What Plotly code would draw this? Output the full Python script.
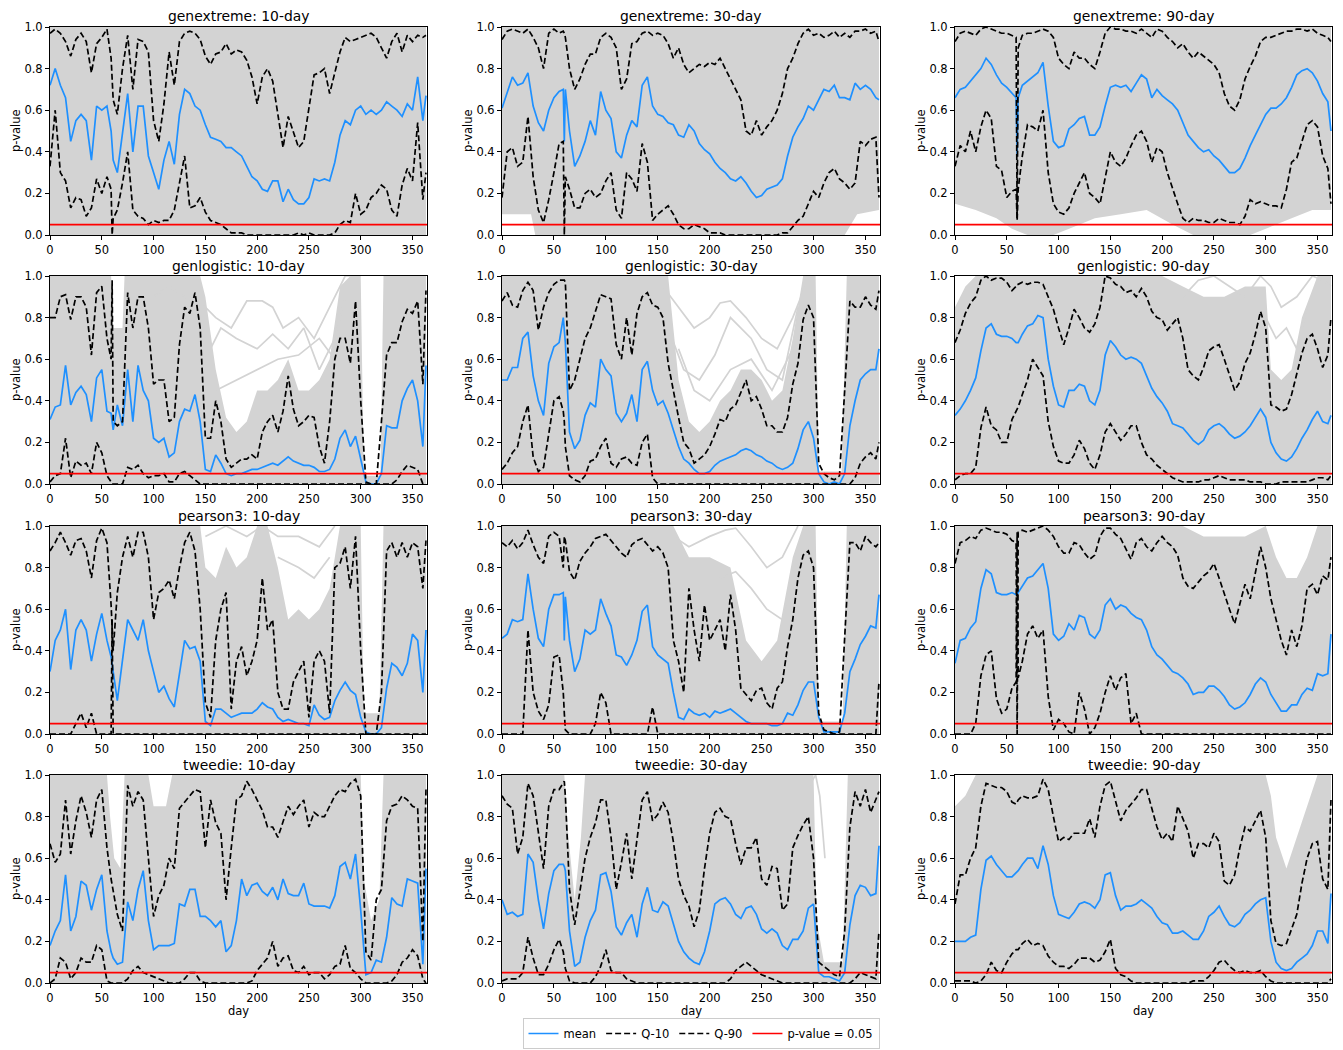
import plotly.graph_objects as go

# ---------------- data ----------------
DAYS = [0, 5, 10, 15, 20, 25, 30, 35, 40, 45, 50, 55,
        59, 60, 61,
        65, 70, 75, 80, 85, 90, 95, 100, 105, 110, 115, 120,
        125, 130, 135, 140, 145, 150, 155, 160, 165, 170, 175, 180,
        185, 190, 195, 200, 205, 210, 215, 220, 225, 230, 235, 240,
        245, 250, 255, 260, 265, 270, 275, 280, 285, 290, 295, 300,
        305, 310, 315, 320, 325, 330, 335, 340, 345, 350, 355, 360,
        363]
THRESHOLD = 0.05
X_TICKS = [0, 50, 100, 150, 200, 250, 300, 350]
Y_TICKS = [0.0, 0.2, 0.4, 0.6, 0.8, 1.0]
X_MAX = 364
DISTRIBUTIONS = ["genextreme", "genlogistic", "pearson3", "tweedie"]
WINDOWS = ["10-day", "30-day", "90-day"]

# rows of values: days 0-55 | 59,60,61 | 65-120 | 125-180 | 185-240 | 245-300 | 305-360 | 363

# genextreme 10-day
mean_genextreme_10 = [0.72, 0.80, 0.72, 0.66, 0.45, 0.55, 0.58, 0.55, 0.36, 0.62, 0.60, 0.62,
                      0.50, 0.42, 0.36,
                      0.30, 0.50, 0.68, 0.40, 0.62, 0.62, 0.38, 0.30, 0.22, 0.36, 0.45, 0.34,
                      0.58, 0.70, 0.68, 0.62, 0.60, 0.53, 0.47, 0.46, 0.45, 0.42, 0.42, 0.40,
                      0.38, 0.33, 0.28, 0.26, 0.22, 0.21, 0.26, 0.26, 0.16, 0.22, 0.17, 0.15,
                      0.15, 0.18, 0.27, 0.26, 0.27, 0.26, 0.35, 0.48, 0.55, 0.53, 0.60, 0.62,
                      0.58, 0.60, 0.58, 0.60, 0.64, 0.62, 0.60, 0.57, 0.63, 0.60, 0.76, 0.55,
                      0.67]
q90_genextreme_10 = [0.97, 0.99, 0.97, 0.93, 0.86, 0.94, 0.97, 0.93, 0.78, 0.92, 0.95, 0.99,
                     0.85, 0.75, 0.65,
                     0.58, 0.80, 0.96, 0.70, 0.94, 0.93, 0.88, 0.55, 0.45, 0.63, 0.88, 0.72,
                     0.93, 0.97, 0.98, 0.97, 0.94, 0.86, 0.82, 0.87, 0.88, 0.92, 0.87, 0.89,
                     0.88, 0.84, 0.76, 0.63, 0.76, 0.80, 0.74, 0.58, 0.42, 0.57, 0.50, 0.42,
                     0.45, 0.62, 0.77, 0.78, 0.80, 0.68, 0.78, 0.88, 0.95, 0.93, 0.94, 0.95,
                     0.96, 0.97, 0.95, 0.90, 0.85, 0.93, 0.97, 0.88, 0.96, 0.93, 0.96, 0.95,
                     0.96]
q10_genextreme_10 = [0.33, 0.60, 0.30, 0.26, 0.13, 0.18, 0.17, 0.09, 0.13, 0.27, 0.20, 0.28,
                     0.22, 0.00, 0.08,
                     0.12, 0.25, 0.40, 0.12, 0.09, 0.08, 0.05, 0.07, 0.06, 0.07, 0.07, 0.12,
                     0.25, 0.38, 0.13, 0.14, 0.18, 0.11, 0.07, 0.06, 0.05, 0.03, 0.01, 0.01,
                     0.01, 0.00, 0.00, 0.00, 0.00, 0.00, 0.00, 0.00, 0.00, 0.00, 0.00, 0.01,
                     0.00, 0.01, 0.00, 0.00, 0.00, 0.00, 0.01, 0.05, 0.07, 0.06, 0.20, 0.10,
                     0.12, 0.18, 0.20, 0.24, 0.22, 0.12, 0.09, 0.24, 0.32, 0.26, 0.54, 0.17,
                     0.30]
gray_x_genextreme_10 = [0, 363]
gray_hi_genextreme_10 = [1.0, 1.0]
gray_lo_genextreme_10 = [0.0, 0.0]

# genextreme 30-day
mean_genextreme_30 = [0.61, 0.68, 0.76, 0.72, 0.73, 0.78, 0.62, 0.54, 0.50, 0.60, 0.66, 0.69,
                      0.70, 0.45, 0.70,
                      0.50, 0.33, 0.38, 0.45, 0.55, 0.48, 0.69, 0.60, 0.56, 0.40, 0.37, 0.48,
                      0.55, 0.52, 0.72, 0.76, 0.62, 0.58, 0.57, 0.54, 0.53, 0.48, 0.47, 0.53,
                      0.50, 0.44, 0.41, 0.39, 0.35, 0.32, 0.30, 0.27, 0.26, 0.28, 0.25, 0.21,
                      0.18, 0.19, 0.22, 0.23, 0.24, 0.27, 0.38, 0.47, 0.52, 0.56, 0.62, 0.60,
                      0.65, 0.70, 0.69, 0.72, 0.66, 0.66, 0.65, 0.73, 0.70, 0.72, 0.70, 0.66,
                      0.65]
q90_genextreme_30 = [0.94, 0.98, 0.99, 0.98, 0.97, 0.99, 0.95, 0.90, 0.80, 0.97, 0.99, 0.97,
                     0.98, 0.97, 0.95,
                     0.80, 0.70, 0.75, 0.82, 0.87, 0.87, 0.95, 0.97, 0.95, 0.90, 0.70, 0.75,
                     0.92, 0.93, 0.97, 0.98, 0.96, 0.97, 0.96, 0.92, 0.85, 0.90, 0.82, 0.78,
                     0.80, 0.82, 0.81, 0.83, 0.82, 0.85, 0.80, 0.75, 0.70, 0.65, 0.50, 0.48,
                     0.55, 0.48, 0.52, 0.55, 0.60, 0.68, 0.80, 0.85, 0.92, 0.97, 0.99, 0.96,
                     0.97, 0.95, 0.96, 0.98, 0.95, 0.97, 0.95, 0.98, 0.98, 0.99, 0.97, 0.98,
                     0.93]
q10_genextreme_30 = [0.18, 0.40, 0.42, 0.33, 0.35, 0.57, 0.28, 0.12, 0.06, 0.17, 0.30, 0.44,
                     0.45, 0.00, 0.28,
                     0.22, 0.13, 0.13, 0.20, 0.22, 0.18, 0.20, 0.26, 0.30, 0.12, 0.08, 0.30,
                     0.27, 0.21, 0.44, 0.35, 0.07, 0.10, 0.12, 0.14, 0.10, 0.05, 0.03, 0.03,
                     0.05, 0.04, 0.03, 0.01, 0.01, 0.01, 0.00, 0.00, 0.00, 0.00, 0.00, 0.00,
                     0.00, 0.00, 0.00, 0.00, 0.00, 0.01, 0.01, 0.04, 0.07, 0.09, 0.15, 0.21,
                     0.18, 0.25, 0.30, 0.32, 0.27, 0.25, 0.22, 0.25, 0.45, 0.43, 0.46, 0.47,
                     0.18]
gray_x_genextreme_30 = [0, 28, 32, 330, 342, 363]
gray_hi_genextreme_30 = [1.0, 1.0, 1.0, 1.0, 1.0, 1.0]
gray_lo_genextreme_30 = [0.10, 0.10, 0.0, 0.0, 0.10, 0.12]

# genextreme 90-day
mean_genextreme_90 = [0.66, 0.70, 0.71, 0.74, 0.77, 0.80, 0.85, 0.82, 0.77, 0.73, 0.71, 0.68,
                      0.66, 0.39, 0.66,
                      0.72, 0.74, 0.76, 0.78, 0.83, 0.62, 0.45, 0.42, 0.43, 0.51, 0.53, 0.56,
                      0.57, 0.48, 0.48, 0.52, 0.62, 0.71, 0.72, 0.71, 0.72, 0.69, 0.73, 0.77,
                      0.75, 0.66, 0.70, 0.67, 0.65, 0.63, 0.60, 0.54, 0.48, 0.45, 0.42, 0.40,
                      0.41, 0.38, 0.36, 0.33, 0.30, 0.30, 0.32, 0.37, 0.43, 0.48, 0.53, 0.58,
                      0.61, 0.61, 0.63, 0.66, 0.71, 0.77, 0.79, 0.80, 0.78, 0.74, 0.68, 0.64,
                      0.50]
q90_genextreme_90 = [0.93, 0.97, 0.98, 0.97, 0.96, 0.99, 1.00, 0.99, 0.98, 0.97, 0.97, 0.96,
                     0.95, 0.08, 0.90,
                     0.96, 0.97, 0.97, 0.98, 0.99, 0.98, 0.95, 0.85, 0.82, 0.80, 0.88, 0.85,
                     0.85, 0.82, 0.80, 0.88, 0.97, 1.00, 0.99, 0.99, 0.98, 0.98, 0.97, 0.99,
                     0.97, 0.95, 0.99, 0.98, 0.95, 0.93, 0.90, 0.92, 0.88, 0.85, 0.88, 0.86,
                     0.84, 0.82, 0.78, 0.68, 0.62, 0.60, 0.65, 0.75, 0.81, 0.86, 0.93, 0.95,
                     0.95, 0.96, 0.97, 0.98, 0.98, 0.99, 0.99, 0.98, 0.99, 0.97, 0.96, 0.95,
                     0.93]
q10_genextreme_90 = [0.33, 0.43, 0.40, 0.50, 0.40, 0.52, 0.60, 0.56, 0.33, 0.31, 0.18, 0.21,
                     0.22, 0.07, 0.22,
                     0.38, 0.53, 0.52, 0.50, 0.60, 0.30, 0.15, 0.11, 0.10, 0.13, 0.20, 0.25,
                     0.30, 0.20, 0.18, 0.15, 0.28, 0.40, 0.35, 0.33, 0.37, 0.43, 0.48, 0.50,
                     0.45, 0.35, 0.42, 0.40, 0.30, 0.22, 0.15, 0.08, 0.06, 0.08, 0.07, 0.07,
                     0.06, 0.06, 0.08, 0.07, 0.06, 0.06, 0.05, 0.09, 0.17, 0.15, 0.16, 0.15,
                     0.14, 0.14, 0.13, 0.22, 0.35, 0.37, 0.45, 0.53, 0.55, 0.52, 0.38, 0.32,
                     0.15]
gray_x_genextreme_90 = [0, 20, 40, 55, 70, 95, 115, 135, 160, 185, 210, 230, 260, 285, 305, 325, 345, 363]
gray_hi_genextreme_90 = [1.0, 1.0, 1.0, 1.0, 1.0, 1.0, 1.0, 1.0, 1.0, 1.0, 1.0, 1.0, 1.0, 1.0, 1.0, 1.0, 1.0, 1.0]
gray_lo_genextreme_90 = [0.15, 0.12, 0.08, 0.03, 0.0, 0.0, 0.04, 0.08, 0.10, 0.12, 0.05, 0.0, 0.0, 0.0, 0.04, 0.08, 0.12, 0.12]

# genlogistic 10-day
mean_genlogistic_10 = [0.31, 0.37, 0.38, 0.57, 0.38, 0.44, 0.47, 0.43, 0.30, 0.51, 0.55, 0.35,
                       0.34, 0.30, 0.26,
                       0.38, 0.28, 0.55, 0.30, 0.57, 0.45, 0.40, 0.22, 0.20, 0.22, 0.13, 0.15,
                       0.30, 0.36, 0.35, 0.43, 0.30, 0.07, 0.06, 0.14, 0.10, 0.05, 0.04, 0.05,
                       0.05, 0.06, 0.07, 0.07, 0.08, 0.09, 0.10, 0.09, 0.11, 0.13, 0.11, 0.10,
                       0.09, 0.09, 0.08, 0.06, 0.06, 0.07, 0.12, 0.22, 0.26, 0.18, 0.23, 0.12,
                       0.01, 0.00, 0.00, 0.05, 0.28, 0.27, 0.27, 0.40, 0.46, 0.50, 0.40, 0.18,
                       0.57]
q90_genlogistic_10 = [0.80, 0.80, 0.90, 0.91, 0.79, 0.90, 0.90, 0.85, 0.62, 0.92, 0.95, 0.70,
                      0.60, 0.98, 0.30,
                      0.28, 0.30, 0.92, 0.75, 0.90, 0.90, 0.75, 0.48, 0.50, 0.50, 0.30, 0.32,
                      0.67, 0.85, 0.82, 0.92, 0.75, 0.22, 0.22, 0.40, 0.30, 0.12, 0.08, 0.10,
                      0.12, 0.12, 0.14, 0.12, 0.25, 0.30, 0.33, 0.25, 0.35, 0.52, 0.36, 0.28,
                      0.30, 0.33, 0.32, 0.18, 0.10, 0.30, 0.60, 0.70, 0.70, 0.58, 0.88, 0.40,
                      0.01, 0.00, 0.00, 0.30, 0.62, 0.68, 0.68, 0.78, 0.84, 0.82, 0.88, 0.48,
                      0.93]
q10_genlogistic_10 = [0.01, 0.04, 0.05, 0.22, 0.03, 0.11, 0.09, 0.10, 0.05, 0.20, 0.15, 0.04,
                      0.01, 0.00, 0.00,
                      0.00, 0.00, 0.08, 0.07, 0.09, 0.05, 0.03, 0.04, 0.04, 0.05, 0.01, 0.01,
                      0.05, 0.06, 0.04, 0.02, 0.00, 0.00, 0.00, 0.00, 0.00, 0.00, 0.00, 0.00,
                      0.00, 0.00, 0.00, 0.00, 0.00, 0.00, 0.00, 0.00, 0.00, 0.00, 0.00, 0.00,
                      0.00, 0.00, 0.00, 0.00, 0.00, 0.00, 0.00, 0.00, 0.00, 0.00, 0.00, 0.00,
                      0.00, 0.00, 0.00, 0.00, 0.00, 0.00, 0.02, 0.06, 0.09, 0.08, 0.07, 0.00,
                      0.00]
gray_x_genlogistic_10 = [0, 59, 61, 70, 72, 145, 150, 160, 170, 180, 190, 200, 210, 220, 230, 240,
                         250, 260, 270, 280, 290, 300, 303, 319, 322, 363]
gray_hi_genlogistic_10 = [1.0, 1.0, 0.75, 0.75, 1.0, 1.0, 0.9, 0.55, 0.32, 0.25, 0.3, 0.45, 0.45, 0.5, 0.6, 0.45,
                          0.45, 0.5, 0.6, 0.95, 1.0, 1.0, 0.04, 0.04, 1.0, 1.0]
gray_lo_genlogistic_10 = [0.0, 0.0, 0.0, 0.0, 0.0, 0.0, 0.0, 0.0, 0.0, 0.0, 0.0, 0.0, 0.0, 0.0, 0.0, 0.0,
                          0.0, 0.0, 0.0, 0.0, 0.0, 0.0, 0.0, 0.0, 0.0, 0.0]
sparse_genlogistic_10 = [
    ([100, 115, 130, 150, 160, 175, 190, 205, 215, 225, 240, 255, 270, 285, 295],
     [0.90, 0.95, 0.90, 0.85, 0.80, 0.75, 0.88, 0.88, 0.85, 0.75, 0.80, 0.70, 0.85, 1.00, 1.00]),
    ([150, 165, 180, 200, 215, 230, 245, 260, 275, 285],
     [0.60, 0.75, 0.70, 0.65, 0.72, 0.65, 0.75, 0.55, 0.70, 0.90]),
    ([160, 180, 200, 220, 240, 260, 275],
     [0.45, 0.50, 0.55, 0.60, 0.62, 0.70, 0.60]),
]

# genlogistic 30-day
mean_genlogistic_30 = [0.50, 0.50, 0.56, 0.56, 0.70, 0.73, 0.52, 0.40, 0.33, 0.58, 0.66, 0.68,
                       0.80, 0.72, 0.68,
                       0.25, 0.17, 0.21, 0.33, 0.39, 0.37, 0.60, 0.55, 0.52, 0.34, 0.30, 0.34,
                       0.43, 0.30, 0.55, 0.59, 0.45, 0.38, 0.40, 0.34, 0.26, 0.18, 0.12, 0.10,
                       0.07, 0.05, 0.05, 0.06, 0.09, 0.11, 0.12, 0.13, 0.14, 0.16, 0.17, 0.16,
                       0.14, 0.13, 0.11, 0.10, 0.08, 0.07, 0.08, 0.10, 0.17, 0.26, 0.30, 0.22,
                       0.05, 0.01, 0.00, 0.01, 0.00, 0.05, 0.28, 0.40, 0.50, 0.53, 0.55, 0.55,
                       0.65]
q90_genlogistic_30 = [0.88, 0.92, 0.86, 0.85, 0.93, 0.97, 0.93, 0.74, 0.85, 0.92, 0.96, 0.98,
                      0.98, 0.98, 0.97,
                      0.45, 0.50, 0.60, 0.70, 0.75, 0.83, 0.91, 0.90, 0.89, 0.67, 0.60, 0.80,
                      0.62, 0.82, 0.90, 0.92, 0.86, 0.85, 0.80, 0.58, 0.44, 0.32, 0.20, 0.17,
                      0.10, 0.12, 0.14, 0.18, 0.24, 0.31, 0.30, 0.36, 0.38, 0.44, 0.50, 0.40,
                      0.42, 0.36, 0.28, 0.28, 0.25, 0.25, 0.32, 0.48, 0.58, 0.79, 0.86, 0.80,
                      0.10, 0.05, 0.03, 0.02, 0.04, 0.45, 0.88, 0.85, 0.85, 0.90, 0.86, 0.84,
                      0.93]
q10_genlogistic_30 = [0.07, 0.10, 0.15, 0.18, 0.30, 0.38, 0.13, 0.06, 0.08, 0.25, 0.40, 0.42,
                      0.35, 0.30, 0.18,
                      0.04, 0.02, 0.01, 0.04, 0.11, 0.12, 0.18, 0.22, 0.10, 0.08, 0.12, 0.13,
                      0.10, 0.09, 0.20, 0.24, 0.03, 0.00, 0.00, 0.00, 0.00, 0.00, 0.00, 0.00,
                      0.00, 0.00, 0.00, 0.00, 0.00, 0.00, 0.00, 0.00, 0.00, 0.00, 0.00, 0.00,
                      0.00, 0.00, 0.00, 0.00, 0.00, 0.00, 0.00, 0.00, 0.00, 0.00, 0.00, 0.00,
                      0.00, 0.00, 0.00, 0.00, 0.00, 0.00, 0.00, 0.03, 0.10, 0.13, 0.15, 0.12,
                      0.20]
gray_x_genlogistic_30 = [0, 160, 170, 180, 190, 200, 210, 220, 230, 240, 250, 260, 270, 280, 290,
                         302, 305, 327, 332, 363]
gray_hi_genlogistic_30 = [1.0, 1.0, 0.5, 0.3, 0.25, 0.3, 0.4, 0.45, 0.55, 0.55, 0.5, 0.4, 0.45, 0.7, 1.0,
                          1.0, 0.06, 0.06, 1.0, 1.0]
gray_lo_genlogistic_30 = [0.0, 0.0, 0.0, 0.0, 0.0, 0.0, 0.0, 0.0, 0.0, 0.0, 0.0, 0.0, 0.0, 0.0, 0.0,
                          0.0, 0.0, 0.0, 0.0, 0.0]
sparse_genlogistic_30 = [
    ([155, 170, 185, 200, 210, 220, 235, 250, 265, 280, 292],
     [0.95, 0.85, 0.75, 0.80, 0.87, 0.88, 0.80, 0.70, 0.65, 0.80, 0.95]),
    ([160, 175, 190, 205, 220, 240, 255, 270, 285],
     [0.75, 0.55, 0.50, 0.62, 0.80, 0.70, 0.55, 0.50, 0.85]),
    ([170, 185, 200, 220, 240, 260, 280],
     [0.65, 0.45, 0.40, 0.55, 0.60, 0.45, 0.65]),
]

# genlogistic 90-day
mean_genlogistic_90 = [0.33, 0.36, 0.40, 0.45, 0.51, 0.64, 0.75, 0.77, 0.72, 0.71, 0.71, 0.70,
                       0.68, 0.68, 0.68,
                       0.72, 0.76, 0.77, 0.81, 0.80, 0.60, 0.47, 0.38, 0.37, 0.45, 0.45, 0.48,
                       0.47, 0.40, 0.38, 0.45, 0.62, 0.69, 0.66, 0.62, 0.60, 0.61, 0.60, 0.58,
                       0.52, 0.46, 0.42, 0.39, 0.35, 0.29, 0.28, 0.27, 0.24, 0.21, 0.19, 0.21,
                       0.26, 0.28, 0.29, 0.27, 0.24, 0.22, 0.23, 0.25, 0.28, 0.32, 0.36, 0.32,
                       0.20, 0.15, 0.12, 0.11, 0.13, 0.17, 0.22, 0.26, 0.31, 0.35, 0.30, 0.29,
                       0.33]
q90_genlogistic_90 = [0.68, 0.74, 0.82, 0.87, 0.90, 0.98, 1.00, 0.98, 0.99, 0.99, 0.97, 0.93,
                      0.95, 0.96, 0.96,
                      0.97, 0.96, 0.97, 0.97, 0.96, 0.90, 0.84, 0.75, 0.67, 0.75, 0.84, 0.80,
                      0.75, 0.73, 0.77, 0.85, 1.00, 0.99, 0.96, 0.95, 0.92, 0.93, 0.90, 0.94,
                      0.90, 0.83, 0.80, 0.79, 0.74, 0.77, 0.80, 0.70, 0.55, 0.52, 0.50, 0.56,
                      0.64, 0.66, 0.67, 0.60, 0.52, 0.45, 0.49, 0.58, 0.63, 0.72, 0.83, 0.75,
                      0.38, 0.37, 0.35, 0.36, 0.43, 0.53, 0.63, 0.70, 0.72, 0.65, 0.56, 0.62,
                      0.80]
q10_genlogistic_90 = [0.02, 0.04, 0.05, 0.05, 0.08, 0.27, 0.37, 0.28, 0.26, 0.20, 0.20, 0.31,
                      0.35, 0.36, 0.37,
                      0.43, 0.50, 0.60, 0.56, 0.52, 0.30, 0.18, 0.11, 0.10, 0.10, 0.14, 0.21,
                      0.17, 0.10, 0.07, 0.14, 0.25, 0.29, 0.25, 0.21, 0.24, 0.28, 0.28, 0.20,
                      0.14, 0.12, 0.09, 0.07, 0.05, 0.03, 0.02, 0.01, 0.01, 0.01, 0.01, 0.02,
                      0.02, 0.03, 0.04, 0.03, 0.02, 0.02, 0.02, 0.02, 0.01, 0.01, 0.01, 0.00,
                      0.00, 0.00, 0.01, 0.01, 0.01, 0.01, 0.01, 0.01, 0.02, 0.03, 0.03, 0.02,
                      0.04]
gray_x_genlogistic_90 = [0, 10, 20, 200, 220, 240, 260, 280, 300, 305, 315, 325, 335, 350, 363]
gray_hi_genlogistic_90 = [0.85, 0.95, 1.0, 1.0, 0.95, 0.9, 0.9, 0.95, 0.95, 0.55, 0.5, 0.55, 0.8, 1.0, 1.0]
gray_lo_genlogistic_90 = [0.0, 0.0, 0.0, 0.0, 0.0, 0.0, 0.0, 0.0, 0.0, 0.0, 0.0, 0.0, 0.0, 0.0, 0.0]
sparse_genlogistic_90 = [
    ([220, 235, 250, 265, 280, 295, 305, 315, 330, 345, 355, 363],
     [0.90, 0.98, 1.00, 0.95, 0.90, 1.00, 0.95, 0.85, 0.90, 1.00, 0.98, 0.95]),
    ([300, 310, 320, 330, 340],
     [0.80, 0.70, 0.75, 0.65, 0.85]),
]

# pearson3 10-day
mean_pearson3_10 = [0.30, 0.45, 0.50, 0.60, 0.31, 0.50, 0.55, 0.50, 0.35, 0.48, 0.58, 0.45,
                    0.37, 0.33, 0.30,
                    0.16, 0.35, 0.55, 0.50, 0.45, 0.55, 0.40, 0.30, 0.20, 0.23, 0.17, 0.13,
                    0.30, 0.45, 0.41, 0.42, 0.35, 0.06, 0.04, 0.12, 0.12, 0.10, 0.08, 0.09,
                    0.10, 0.10, 0.10, 0.12, 0.15, 0.13, 0.12, 0.08, 0.06, 0.07, 0.06, 0.05,
                    0.05, 0.04, 0.14, 0.09, 0.07, 0.08, 0.16, 0.21, 0.25, 0.21, 0.19, 0.08,
                    0.01, 0.00, 0.00, 0.03, 0.22, 0.34, 0.32, 0.28, 0.34, 0.48, 0.45, 0.20,
                    0.50]
q90_pearson3_10 = [0.88, 0.92, 0.97, 0.92, 0.86, 0.93, 0.94, 0.88, 0.75, 0.93, 0.99, 0.92,
                   0.62, 0.45, 0.40,
                   0.68, 0.85, 0.95, 0.85, 0.97, 0.97, 0.85, 0.55, 0.68, 0.70, 0.74, 0.65,
                   0.80, 0.92, 0.97, 0.88, 0.60, 0.15, 0.08, 0.45, 0.60, 0.68, 0.12, 0.35,
                   0.42, 0.28, 0.35, 0.45, 0.75, 0.50, 0.55, 0.20, 0.12, 0.12, 0.25, 0.30,
                   0.35, 0.08, 0.35, 0.40, 0.35, 0.10, 0.80, 0.82, 0.90, 0.70, 0.95, 0.40,
                   0.00, 0.00, 0.00, 0.20, 0.88, 0.92, 0.85, 0.92, 0.85, 0.92, 0.90, 0.70,
                   0.93]
q10_pearson3_10 = [0.00, 0.00, 0.00, 0.00, 0.00, 0.05, 0.10, 0.03, 0.10, 0.00, 0.00, 0.00,
                   0.00, 0.55, 0.00,
                   0.00, 0.00, 0.00, 0.00, 0.00, 0.00, 0.00, 0.00, 0.00, 0.00, 0.00, 0.00,
                   0.00, 0.00, 0.00, 0.00, 0.00, 0.00, 0.00, 0.00, 0.00, 0.00, 0.00, 0.00,
                   0.00, 0.00, 0.00, 0.00, 0.00, 0.00, 0.00, 0.00, 0.00, 0.00, 0.00, 0.00,
                   0.00, 0.00, 0.00, 0.00, 0.00, 0.00, 0.00, 0.00, 0.00, 0.00, 0.00, 0.00,
                   0.00, 0.00, 0.00, 0.00, 0.00, 0.00, 0.00, 0.00, 0.00, 0.00, 0.00, 0.00,
                   0.00]
gray_x_pearson3_10 = [0, 145, 150, 160, 170, 180, 190, 200, 210, 220, 230, 240, 250, 260, 270, 280,
                      300, 303, 318, 322, 363]
gray_hi_pearson3_10 = [1.0, 1.0, 0.8, 0.75, 0.9, 0.8, 0.85, 1.0, 1.0, 0.8, 0.55, 0.6, 0.55, 0.6, 0.7, 1.0,
                       1.0, 0.1, 0.1, 1.0, 1.0]
gray_lo_pearson3_10 = [0.0, 0.0, 0.0, 0.0, 0.0, 0.0, 0.0, 0.0, 0.0, 0.0, 0.0, 0.0, 0.0, 0.0, 0.0, 0.0,
                       0.0, 0.0, 0.0, 0.0, 0.0]
sparse_pearson3_10 = [
    ([150, 170, 190, 205, 220, 240, 260, 275], [0.95, 1.00, 0.95, 1.00, 0.95, 0.95, 0.90, 1.00]),
    ([220, 240, 255, 270], [0.85, 0.80, 0.75, 0.85]),
]

# pearson3 30-day
mean_pearson3_30 = [0.46, 0.48, 0.55, 0.54, 0.55, 0.77, 0.60, 0.46, 0.42, 0.60, 0.67, 0.67,
                    0.68, 0.45, 0.66,
                    0.45, 0.30, 0.36, 0.50, 0.48, 0.50, 0.65, 0.58, 0.52, 0.38, 0.37, 0.33,
                    0.38, 0.45, 0.59, 0.62, 0.42, 0.38, 0.36, 0.34, 0.20, 0.08, 0.07, 0.12,
                    0.10, 0.09, 0.10, 0.08, 0.11, 0.10, 0.11, 0.12, 0.10, 0.08, 0.06, 0.05,
                    0.05, 0.05, 0.05, 0.04, 0.04, 0.05, 0.10, 0.09, 0.14, 0.21, 0.25, 0.25,
                    0.08, 0.01, 0.01, 0.01, 0.01, 0.10, 0.30, 0.36, 0.43, 0.47, 0.52, 0.51,
                    0.67]
q90_pearson3_30 = [0.92, 0.90, 0.93, 0.89, 0.92, 0.98, 0.91, 0.85, 0.82, 0.95, 0.97, 0.95,
                   0.80, 0.95, 0.93,
                   0.78, 0.74, 0.83, 0.87, 0.90, 0.94, 0.95, 0.96, 0.93, 0.90, 0.87, 0.85,
                   0.91, 0.93, 0.94, 0.91, 0.88, 0.90, 0.87, 0.80, 0.45, 0.35, 0.20, 0.70,
                   0.50, 0.35, 0.62, 0.45, 0.50, 0.55, 0.40, 0.67, 0.50, 0.22, 0.19, 0.16,
                   0.21, 0.22, 0.15, 0.12, 0.22, 0.25, 0.42, 0.55, 0.75, 0.86, 0.88, 0.80,
                   0.10, 0.02, 0.01, 0.00, 0.01, 0.50, 0.92, 0.92, 0.88, 0.95, 0.92, 0.90,
                   0.92]
q10_pearson3_30 = [0.00, 0.00, 0.00, 0.00, 0.00, 0.50, 0.20, 0.11, 0.07, 0.14, 0.37, 0.38,
                   0.20, 0.10, 0.02,
                   0.00, 0.00, 0.00, 0.00, 0.00, 0.05, 0.20, 0.15, 0.00, 0.00, 0.00, 0.00,
                   0.00, 0.00, 0.00, 0.00, 0.13, 0.00, 0.00, 0.00, 0.00, 0.00, 0.00, 0.00,
                   0.00, 0.00, 0.00, 0.00, 0.00, 0.00, 0.00, 0.00, 0.00, 0.00, 0.00, 0.00,
                   0.00, 0.00, 0.00, 0.00, 0.00, 0.00, 0.00, 0.00, 0.00, 0.00, 0.00, 0.00,
                   0.00, 0.00, 0.00, 0.00, 0.00, 0.00, 0.00, 0.00, 0.00, 0.00, 0.00, 0.00,
                   0.25]
gray_x_pearson3_30 = [0, 165, 180, 200, 220, 235, 250, 265, 280, 290, 302, 305, 328, 332, 363]
gray_hi_pearson3_30 = [1.0, 1.0, 0.85, 0.85, 0.8, 0.45, 0.35, 0.45, 0.85, 1.0, 1.0, 0.06, 0.06, 1.0, 1.0]
gray_lo_pearson3_30 = [0.0, 0.0, 0.0, 0.0, 0.0, 0.0, 0.0, 0.0, 0.0, 0.0, 0.0, 0.0, 0.0, 0.0, 0.0]
sparse_pearson3_30 = [
    ([165, 180, 200, 215, 225, 240, 255, 270, 285], [0.95, 0.90, 0.95, 0.98, 0.99, 0.90, 0.80, 0.85, 1.00]),
    ([210, 225, 240, 255, 270, 280], [0.75, 0.78, 0.70, 0.60, 0.55, 0.70]),
]

# pearson3 90-day
mean_pearson3_90 = [0.34, 0.45, 0.46, 0.51, 0.54, 0.70, 0.79, 0.77, 0.68, 0.67, 0.67, 0.68,
                    0.67, 0.67, 0.68,
                    0.71, 0.75, 0.76, 0.79, 0.82, 0.70, 0.48, 0.45, 0.47, 0.53, 0.50, 0.57,
                    0.56, 0.48, 0.46, 0.50, 0.62, 0.65, 0.60, 0.62, 0.61, 0.58, 0.56, 0.55,
                    0.50, 0.42, 0.38, 0.36, 0.33, 0.30, 0.29, 0.27, 0.24, 0.19, 0.20, 0.20,
                    0.23, 0.23, 0.21, 0.18, 0.14, 0.12, 0.13, 0.15, 0.19, 0.24, 0.27, 0.25,
                    0.19, 0.15, 0.11, 0.11, 0.14, 0.14, 0.19, 0.22, 0.21, 0.29, 0.28, 0.29,
                    0.48]
q90_pearson3_90 = [0.82, 0.92, 0.93, 0.95, 0.94, 0.98, 0.99, 0.98, 0.97, 0.97, 0.96, 0.93,
                   0.92, 0.00, 0.97,
                   0.98, 0.97, 0.98, 0.99, 1.00, 0.98, 0.95, 0.90, 0.87, 0.87, 0.92, 0.91,
                   0.87, 0.84, 0.86, 0.95, 0.99, 0.99, 0.96, 0.94, 0.89, 0.84, 0.92, 0.94,
                   0.90, 0.88, 0.92, 0.95, 0.92, 0.90, 0.86, 0.75, 0.71, 0.70, 0.73, 0.76,
                   0.78, 0.82, 0.75, 0.67, 0.60, 0.53, 0.62, 0.72, 0.65, 0.78, 0.90, 0.80,
                   0.65, 0.55, 0.45, 0.38, 0.50, 0.42, 0.52, 0.70, 0.72, 0.67, 0.76, 0.74,
                   0.85]
q10_pearson3_90 = [0.00, 0.00, 0.00, 0.00, 0.05, 0.28, 0.38, 0.40, 0.17, 0.10, 0.12, 0.22,
                   0.25, 0.97, 0.27,
                   0.35, 0.48, 0.52, 0.46, 0.50, 0.18, 0.02, 0.07, 0.05, 0.01, 0.00, 0.20,
                   0.12, 0.00, 0.03, 0.10, 0.20, 0.28, 0.21, 0.27, 0.29, 0.05, 0.10, 0.00,
                   0.00, 0.00, 0.00, 0.00, 0.00, 0.00, 0.00, 0.00, 0.00, 0.00, 0.00, 0.00,
                   0.00, 0.00, 0.00, 0.00, 0.00, 0.00, 0.00, 0.00, 0.00, 0.00, 0.00, 0.00,
                   0.00, 0.00, 0.00, 0.00, 0.00, 0.00, 0.00, 0.00, 0.00, 0.00, 0.00, 0.00,
                   0.00]
gray_x_pearson3_90 = [0, 220, 240, 260, 280, 300, 310, 320, 330, 340, 350, 363]
gray_hi_pearson3_90 = [1.0, 1.0, 0.95, 0.95, 0.95, 1.0, 0.85, 0.75, 0.75, 0.85, 1.0, 1.0]
gray_lo_pearson3_90 = [0.0, 0.0, 0.0, 0.0, 0.0, 0.0, 0.0, 0.0, 0.0, 0.0, 0.0, 0.0]

# tweedie 10-day
mean_tweedie_10 = [0.18, 0.25, 0.30, 0.52, 0.25, 0.32, 0.49, 0.47, 0.35, 0.45, 0.52, 0.25,
                   0.15, 0.13, 0.12,
                   0.09, 0.10, 0.39, 0.30, 0.45, 0.54, 0.30, 0.16, 0.18, 0.18, 0.18, 0.19,
                   0.38, 0.37, 0.45, 0.45, 0.32, 0.32, 0.30, 0.27, 0.30, 0.15, 0.18, 0.30,
                   0.50, 0.42, 0.47, 0.48, 0.44, 0.42, 0.46, 0.40, 0.50, 0.43, 0.42, 0.42,
                   0.48, 0.38, 0.37, 0.37, 0.37, 0.36, 0.42, 0.56, 0.58, 0.50, 0.62, 0.35,
                   0.04, 0.05, 0.11, 0.10, 0.22, 0.41, 0.38, 0.37, 0.50, 0.49, 0.48, 0.09,
                   0.55]
q90_tweedie_10 = [0.67, 0.58, 0.62, 0.88, 0.62, 0.78, 0.90, 0.82, 0.70, 0.88, 0.93, 0.65,
                  0.50, 0.47, 0.45,
                  0.33, 0.25, 0.95, 0.85, 0.92, 0.88, 0.60, 0.32, 0.42, 0.47, 0.60, 0.55,
                  0.84, 0.87, 0.90, 0.93, 0.92, 0.65, 0.88, 0.77, 0.72, 0.40, 0.65, 0.88,
                  0.90, 0.97, 0.93, 0.88, 0.83, 0.75, 0.75, 0.70, 0.78, 0.85, 0.81, 0.85,
                  0.88, 0.75, 0.82, 0.80, 0.80, 0.85, 0.90, 0.93, 0.92, 0.96, 0.98, 0.90,
                  0.15, 0.11, 0.40, 0.45, 0.78, 0.85, 0.86, 0.90, 0.88, 0.85, 0.84, 0.20,
                  0.93]
q10_tweedie_10 = [0.00, 0.02, 0.12, 0.10, 0.02, 0.05, 0.12, 0.10, 0.10, 0.18, 0.16, 0.01,
                  0.00, 0.00, 0.00,
                  0.00, 0.00, 0.02, 0.06, 0.08, 0.05, 0.04, 0.03, 0.02, 0.01, 0.00, 0.00,
                  0.00, 0.02, 0.05, 0.05, 0.01, 0.00, 0.00, 0.00, 0.00, 0.00, 0.00, 0.00,
                  0.00, 0.00, 0.01, 0.06, 0.09, 0.12, 0.20, 0.08, 0.12, 0.13, 0.06, 0.05,
                  0.08, 0.04, 0.05, 0.05, 0.02, 0.04, 0.08, 0.09, 0.18, 0.07, 0.05, 0.02,
                  0.00, 0.00, 0.00, 0.00, 0.00, 0.01, 0.04, 0.10, 0.12, 0.16, 0.13, 0.02,
                  0.00]
gray_x_tweedie_10 = [0, 55, 58, 62, 68, 72, 95, 100, 112, 118, 300, 303, 310, 318, 322, 363]
gray_hi_tweedie_10 = [1.0, 1.0, 0.8, 0.6, 0.55, 1.0, 1.0, 0.85, 0.85, 1.0, 1.0, 0.5, 0.3, 0.4, 1.0, 1.0]
gray_lo_tweedie_10 = [0.0, 0.0, 0.0, 0.0, 0.0, 0.0, 0.0, 0.0, 0.0, 0.0, 0.0, 0.0, 0.0, 0.0, 0.0, 0.0]

# tweedie 30-day
mean_tweedie_30 = [0.40, 0.33, 0.34, 0.32, 0.33, 0.62, 0.58, 0.40, 0.26, 0.43, 0.54, 0.57,
                   0.57, 0.56, 0.54,
                   0.25, 0.08, 0.10, 0.22, 0.30, 0.35, 0.52, 0.53, 0.44, 0.27, 0.23, 0.29,
                   0.33, 0.22, 0.38, 0.46, 0.35, 0.34, 0.39, 0.37, 0.28, 0.20, 0.15, 0.12,
                   0.10, 0.09, 0.15, 0.25, 0.38, 0.40, 0.41, 0.38, 0.33, 0.31, 0.36, 0.37,
                   0.33, 0.26, 0.24, 0.26, 0.24, 0.18, 0.16, 0.21, 0.21, 0.25, 0.36, 0.38,
                   0.05, 0.03, 0.03, 0.02, 0.01, 0.05, 0.28, 0.42, 0.47, 0.46, 0.42, 0.43,
                   0.66]
q90_tweedie_30 = [0.90, 0.86, 0.84, 0.62, 0.70, 0.96, 0.90, 0.72, 0.55, 0.85, 0.93, 0.93,
                  0.96, 0.97, 0.90,
                  0.45, 0.28, 0.45, 0.60, 0.70, 0.77, 0.88, 0.88, 0.70, 0.45, 0.58, 0.72,
                  0.50, 0.70, 0.88, 0.92, 0.78, 0.81, 0.87, 0.82, 0.68, 0.50, 0.42, 0.37,
                  0.27, 0.35, 0.55, 0.72, 0.82, 0.84, 0.80, 0.79, 0.67, 0.57, 0.65, 0.65,
                  0.70, 0.50, 0.47, 0.56, 0.55, 0.35, 0.38, 0.65, 0.71, 0.76, 0.80, 0.60,
                  0.10, 0.08, 0.06, 0.04, 0.03, 0.25, 0.75, 0.92, 0.85, 0.93, 0.82, 0.88,
                  0.92]
q10_tweedie_30 = [0.01, 0.02, 0.02, 0.02, 0.05, 0.22, 0.12, 0.04, 0.04, 0.09, 0.16, 0.21,
                  0.15, 0.10, 0.07,
                  0.01, 0.00, 0.00, 0.00, 0.00, 0.03, 0.08, 0.16, 0.06, 0.05, 0.05, 0.02,
                  0.01, 0.00, 0.00, 0.00, 0.00, 0.00, 0.00, 0.00, 0.00, 0.00, 0.00, 0.00,
                  0.00, 0.00, 0.00, 0.00, 0.00, 0.00, 0.00, 0.02, 0.06, 0.08, 0.10, 0.08,
                  0.06, 0.04, 0.03, 0.02, 0.01, 0.00, 0.00, 0.00, 0.00, 0.00, 0.00, 0.00,
                  0.00, 0.00, 0.00, 0.00, 0.00, 0.00, 0.00, 0.02, 0.05, 0.04, 0.03, 0.02,
                  0.25]
gray_x_tweedie_30 = [0, 60, 64, 70, 76, 80, 300, 303, 310, 328, 333, 363]
gray_hi_tweedie_30 = [1.0, 1.0, 0.7, 0.4, 0.7, 1.0, 1.0, 0.3, 0.1, 0.1, 1.0, 1.0]
gray_lo_tweedie_30 = [0.0, 0.0, 0.0, 0.0, 0.0, 0.0, 0.0, 0.0, 0.0, 0.0, 0.0, 0.0]
sparse_tweedie_30 = [
    ([296, 302, 306, 311], [0.95, 1.00, 0.90, 0.60]),
]

# tweedie 90-day
mean_tweedie_90 = [0.20, 0.20, 0.20, 0.22, 0.23, 0.45, 0.59, 0.61, 0.57, 0.54, 0.51, 0.51,
                   0.53, 0.53, 0.54,
                   0.57, 0.60, 0.60, 0.55, 0.66, 0.57, 0.42, 0.33, 0.32, 0.31, 0.34, 0.38,
                   0.39, 0.38, 0.36, 0.40, 0.52, 0.53, 0.42, 0.35, 0.37, 0.37, 0.38, 0.40,
                   0.38, 0.36, 0.32, 0.29, 0.28, 0.24, 0.24, 0.25, 0.23, 0.21, 0.21, 0.25,
                   0.32, 0.34, 0.37, 0.32, 0.28, 0.27, 0.29, 0.33, 0.35, 0.38, 0.40, 0.41,
                   0.20, 0.10, 0.07, 0.06, 0.07, 0.10, 0.12, 0.14, 0.18, 0.25, 0.25, 0.19,
                   0.43]
q90_tweedie_90 = [0.38, 0.52, 0.52, 0.60, 0.65, 0.85, 0.96, 0.95, 0.94, 0.94, 0.92, 0.87,
                  0.86, 0.87, 0.88,
                  0.90, 0.89, 0.89, 0.90, 0.98, 0.93, 0.80, 0.68, 0.70, 0.69, 0.72, 0.72,
                  0.72, 0.79, 0.70, 0.85, 0.95, 0.97, 0.87, 0.78, 0.83, 0.86, 0.89, 0.93,
                  0.93, 0.84, 0.75, 0.69, 0.72, 0.68, 0.85, 0.79, 0.73, 0.60, 0.67, 0.67,
                  0.65, 0.72, 0.68, 0.49, 0.47, 0.52, 0.65, 0.75, 0.73, 0.78, 0.83, 0.70,
                  0.30, 0.19, 0.18, 0.19, 0.26, 0.33, 0.48, 0.60, 0.67, 0.68, 0.50, 0.45,
                  0.88]
q10_tweedie_90 = [0.01, 0.01, 0.01, 0.01, 0.00, 0.01, 0.04, 0.10, 0.06, 0.05, 0.10, 0.14,
                  0.16, 0.16, 0.16,
                  0.19, 0.21, 0.18, 0.19, 0.18, 0.13, 0.10, 0.08, 0.08, 0.07, 0.09, 0.12,
                  0.12, 0.12, 0.10, 0.11, 0.15, 0.21, 0.07, 0.04, 0.03, 0.01, 0.00, 0.00,
                  0.00, 0.00, 0.00, 0.00, 0.00, 0.00, 0.00, 0.00, 0.00, 0.01, 0.01, 0.01,
                  0.03, 0.06, 0.10, 0.11, 0.08, 0.06, 0.05, 0.06, 0.05, 0.05, 0.06, 0.03,
                  0.01, 0.00, 0.00, 0.00, 0.00, 0.00, 0.00, 0.00, 0.00, 0.00, 0.00, 0.00,
                  0.02]
gray_x_tweedie_90 = [0, 10, 20, 300, 305, 310, 320, 330, 340, 350, 363]
gray_hi_tweedie_90 = [0.85, 0.9, 1.0, 1.0, 0.9, 0.7, 0.55, 0.7, 0.85, 1.0, 1.0]
gray_lo_tweedie_90 = [0.0, 0.0, 0.0, 0.0, 0.0, 0.0, 0.0, 0.0, 0.0, 0.0, 0.0]

PANELS = {
    ("genextreme", "10-day"): (mean_genextreme_10, q10_genextreme_10, q90_genextreme_10,
                               gray_x_genextreme_10, gray_lo_genextreme_10, gray_hi_genextreme_10, []),
    ("genextreme", "30-day"): (mean_genextreme_30, q10_genextreme_30, q90_genextreme_30,
                               gray_x_genextreme_30, gray_lo_genextreme_30, gray_hi_genextreme_30, []),
    ("genextreme", "90-day"): (mean_genextreme_90, q10_genextreme_90, q90_genextreme_90,
                               gray_x_genextreme_90, gray_lo_genextreme_90, gray_hi_genextreme_90, []),
    ("genlogistic", "10-day"): (mean_genlogistic_10, q10_genlogistic_10, q90_genlogistic_10,
                                gray_x_genlogistic_10, gray_lo_genlogistic_10, gray_hi_genlogistic_10,
                                sparse_genlogistic_10),
    ("genlogistic", "30-day"): (mean_genlogistic_30, q10_genlogistic_30, q90_genlogistic_30,
                                gray_x_genlogistic_30, gray_lo_genlogistic_30, gray_hi_genlogistic_30,
                                sparse_genlogistic_30),
    ("genlogistic", "90-day"): (mean_genlogistic_90, q10_genlogistic_90, q90_genlogistic_90,
                                gray_x_genlogistic_90, gray_lo_genlogistic_90, gray_hi_genlogistic_90,
                                sparse_genlogistic_90),
    ("pearson3", "10-day"): (mean_pearson3_10, q10_pearson3_10, q90_pearson3_10,
                             gray_x_pearson3_10, gray_lo_pearson3_10, gray_hi_pearson3_10, sparse_pearson3_10),
    ("pearson3", "30-day"): (mean_pearson3_30, q10_pearson3_30, q90_pearson3_30,
                             gray_x_pearson3_30, gray_lo_pearson3_30, gray_hi_pearson3_30, sparse_pearson3_30),
    ("pearson3", "90-day"): (mean_pearson3_90, q10_pearson3_90, q90_pearson3_90,
                             gray_x_pearson3_90, gray_lo_pearson3_90, gray_hi_pearson3_90, []),
    ("tweedie", "10-day"): (mean_tweedie_10, q10_tweedie_10, q90_tweedie_10,
                            gray_x_tweedie_10, gray_lo_tweedie_10, gray_hi_tweedie_10, []),
    ("tweedie", "30-day"): (mean_tweedie_30, q10_tweedie_30, q90_tweedie_30,
                            gray_x_tweedie_30, gray_lo_tweedie_30, gray_hi_tweedie_30, sparse_tweedie_30),
    ("tweedie", "90-day"): (mean_tweedie_90, q10_tweedie_90, q90_tweedie_90,
                            gray_x_tweedie_90, gray_lo_tweedie_90, gray_hi_tweedie_90, []),
}

for key, (m, lo, hi, gx, glo, ghi, sp) in PANELS.items():
    for nm, s in (("mean", m), ("q10", lo), ("q90", hi)):
        if len(s) != len(DAYS):
            raise ValueError(f"{key} {nm}: {len(s)} != {len(DAYS)}")
    if not (len(gx) == len(glo) == len(ghi)):
        raise ValueError(f"{key} gray lengths {len(gx)} {len(glo)} {len(ghi)}")
    for sx, sy in sp:
        if len(sx) != len(sy):
            raise ValueError(f"{key} sparse lengths")

# ---------------- style / layout ----------------
PAGE_W, PAGE_H = 1343, 1050
OFF = 8                       # default page-body margin of the html page
W, H = PAGE_W - OFF, PAGE_H - OFF
COLS = [(50, 427), (502, 880), (955, 1332)]     # page pixels
ROWS = [(27, 235), (276, 484), (526, 734), (775, 983)]
FONT = "DejaVu Sans"
GRAY = "#d3d3d3"
BLUE = "#1e90ff"
LW = 1.7
DASH = "6px,3px"
TICK_FONT = dict(family=FONT, size=11.5, color="black")


def px(xp):
    return (xp - OFF) / W


def py(yp):
    return 1 - (yp - OFF) / H


fig = go.Figure()
annotations = []
axes = {}

for r, dist in enumerate(DISTRIBUTIONS):
    for c, win in enumerate(WINDOWS):
        n = r * 3 + c + 1
        xa = "x" if n == 1 else f"x{n}"
        ya = "y" if n == 1 else f"y{n}"
        m, lo, hi, gx, glo, ghi, sp = PANELS[(dist, win)]
        first = n == 1

        fig.add_trace(go.Scatter(x=gx + gx[::-1], y=ghi + glo[::-1], fill="toself",
                                 fillcolor=GRAY, mode="lines", line=dict(width=0, color=GRAY),
                                 hoverinfo="skip", showlegend=False, xaxis=xa, yaxis=ya))
        for sx, sy in sp:
            fig.add_trace(go.Scatter(x=sx, y=sy, mode="lines", line=dict(color=GRAY, width=LW),
                                     hoverinfo="skip", showlegend=False, xaxis=xa, yaxis=ya))
        fig.add_trace(go.Scatter(x=DAYS, y=m, mode="lines", name="mean",
                                 line=dict(color=BLUE, width=LW), showlegend=first,
                                 xaxis=xa, yaxis=ya))
        fig.add_trace(go.Scatter(x=DAYS, y=lo, mode="lines", name="Q-10",
                                 line=dict(color="black", width=LW, dash=DASH), showlegend=first,
                                 xaxis=xa, yaxis=ya))
        fig.add_trace(go.Scatter(x=DAYS, y=hi, mode="lines", name="Q-90",
                                 line=dict(color="black", width=LW, dash=DASH), showlegend=first,
                                 xaxis=xa, yaxis=ya))
        fig.add_trace(go.Scatter(x=[0, X_MAX], y=[THRESHOLD, THRESHOLD], mode="lines",
                                 name=f"p-value = {THRESHOLD}",
                                 line=dict(color="red", width=LW), showlegend=first,
                                 xaxis=xa, yaxis=ya))

        x0, x1 = COLS[c]
        y0, y1 = ROWS[r]
        common = dict(showline=True, mirror=True, linecolor="black", linewidth=1,
                      ticks="outside", ticklen=4, tickwidth=1, tickcolor="black",
                      showgrid=False, zeroline=False, tickfont=TICK_FONT, automargin=False)
        axes["xaxis" if n == 1 else f"xaxis{n}"] = dict(
            domain=[px(x0), px(x1)], anchor=ya, range=[0, X_MAX],
            tickvals=X_TICKS, **common)
        axes["yaxis" if n == 1 else f"yaxis{n}"] = dict(
            domain=[py(y1), py(y0)], anchor=xa, range=[0, 1],
            tickvals=Y_TICKS, tickformat=".1f", **common)

        annotations.append(dict(text=f"{dist}: {win}", xref="paper", yref="paper",
                                x=px((x0 + x1) / 2), y=py(y0 - 10.5),
                                xanchor="center", yanchor="middle", showarrow=False,
                                font=dict(family=FONT, size=13.9, color="black")))
        annotations.append(dict(text="p-value", xref="paper", yref="paper",
                                x=px(x0 - 34), y=py((y0 + y1) / 2), textangle=-90,
                                xanchor="center", yanchor="middle", showarrow=False,
                                font=dict(family=FONT, size=11.5, color="black")))
        if r == len(DISTRIBUTIONS) - 1:
            annotations.append(dict(text="day", xref="paper", yref="paper",
                                    x=px((x0 + x1) / 2), y=py(1011),
                                    xanchor="center", yanchor="middle", showarrow=False,
                                    font=dict(family=FONT, size=11.5, color="black")))

fig.update_layout(
    width=W, height=H, autosize=False,
    margin=dict(l=0, r=0, t=0, b=0, pad=0, autoexpand=False),
    paper_bgcolor="white", plot_bgcolor="white",
    font=dict(family=FONT, size=11.5, color="black"),
    annotations=annotations,
    showlegend=True,
    legend=dict(orientation="h", x=px(701), xanchor="center", y=py(1049), yanchor="bottom",
                bordercolor="#cccccc", borderwidth=1, bgcolor="white",
                font=dict(family=FONT, size=11.5, color="black")),
    **axes,
)

fig.write_html("out.html")
